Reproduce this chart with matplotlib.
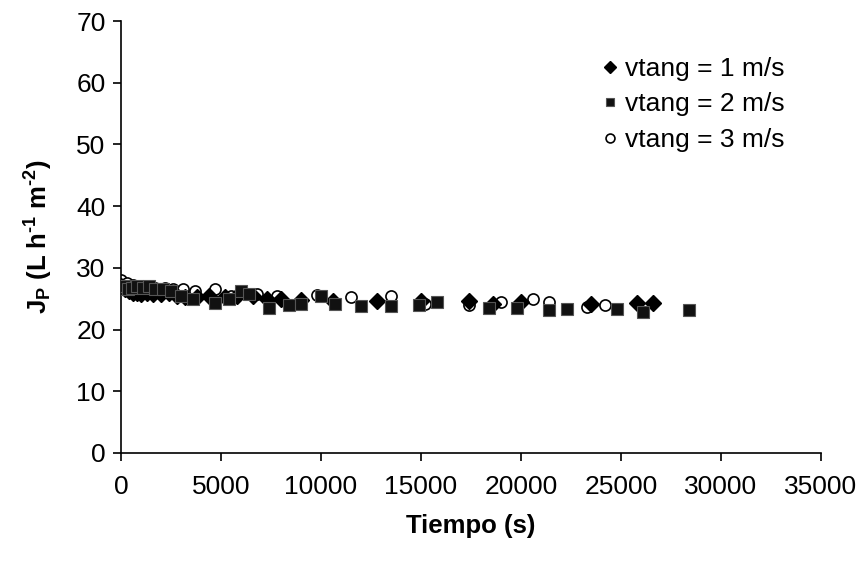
import matplotlib
matplotlib.use("Agg")
import matplotlib.pyplot as plt

plt.rcParams['font.family'] = ['Liberation Sans', 'DejaVu Sans']
plt.rcParams['mathtext.default'] = 'regular'

t1 = [0, 200, 400, 600, 800, 1000, 1300, 1600, 2000, 2400, 2800, 3200, 3800, 4400, 5200, 5800, 6600, 7300, 8000, 9000, 10600, 12800, 15000, 17400, 18600, 20000, 23500, 25800, 26600]
j1 = [27, 26.5, 26.3, 26, 26, 25.8, 26, 25.8, 25.8, 26, 25.5, 25.3, 25.3, 25.5, 25.2, 25.5, 25.5, 25, 25, 24.8, 24.7, 24.7, 24.6, 24.7, 24.2, 24.5, 24.2, 24.3, 24.3]

t2 = [0, 150, 350, 550, 800, 1100, 1400, 1700, 2100, 2500, 3000, 3600, 4700, 5400, 6000, 6400, 7400, 8400, 9000, 10000, 10700, 12000, 13500, 14900, 15800, 18400, 19800, 21400, 22300, 24800, 26100, 28400]
j2 = [26.5, 27, 26.5, 26.8, 27, 26.8, 27, 26.5, 26.5, 26.3, 25.5, 25, 24.3, 25, 26.2, 25.8, 23.5, 24, 24.2, 25.5, 24.2, 23.8, 23.8, 24, 24.5, 23.5, 23.5, 23.2, 23.4, 23.4, 22.8, 23.1]

t3 = [0, 300, 600, 900, 1300, 1700, 2200, 2600, 3100, 3700, 4700, 5500, 6800, 7800, 9800, 11500, 13500, 15200, 17400, 19000, 20600, 21400, 23300, 24200]
j3 = [28, 27.5, 27.2, 27, 26.8, 26.8, 26.8, 26.5, 26.5, 26.2, 26.5, 25.5, 25.8, 25.5, 25.6, 25.2, 25.5, 24.2, 24, 24.5, 25, 24.5, 23.7, 24]

labels = ['vtang = 1 m/s', 'vtang = 2 m/s', 'vtang = 3 m/s']
xticks = list(range(0, 35001, 5000))
yticks = list(range(0, 71, 10))

fig = plt.figure(figsize=(8.61, 5.68), dpi=100)
ax = fig.add_axes([0.1405, 0.2025, 0.813, 0.7605])

ax.plot(t1, j1, linestyle='none', marker='D', markersize=8, color='black', label=labels[0], zorder=3)
ax.plot(t2, j2, linestyle='none', marker='s', markersize=8, markerfacecolor='#111111',
        markeredgecolor='#555555', markeredgewidth=0.8, label=labels[1], zorder=4)
ax.plot(t3, j3, linestyle='none', marker='o', markersize=8, markerfacecolor='white',
        markeredgecolor='black', markeredgewidth=1.2, label=labels[2], zorder=2)

ax.set_xlim(0, 35000)
ax.set_ylim(0, 70)
ax.set_xticks(xticks)
ax.set_yticks(yticks)
ax.tick_params(axis='both', direction='out', length=6, width=1.2, labelsize=19, pad=5)
ax.tick_params(axis='x', pad=10)
for s in ['top', 'right']:
    ax.spines[s].set_visible(False)
for s in ['left', 'bottom']:
    ax.spines[s].set_linewidth(1.2)

ax.set_xlabel('Tiempo (s)', fontsize=18.5, fontweight='bold', labelpad=11)
ax.set_ylabel('J$_P$ (L h$^{\u20101}$ m$^{\u20102}$)', fontsize=18.5, fontweight='bold', labelpad=15)

leg = ax.legend(loc='upper right', bbox_to_anchor=(0.975, 0.96), frameon=False, fontsize=19,
                handlelength=0.6, handletextpad=0.3, labelspacing=0.44, markerscale=0.8,
                borderaxespad=0.3)

fig.savefig('out.png', dpi=100)
